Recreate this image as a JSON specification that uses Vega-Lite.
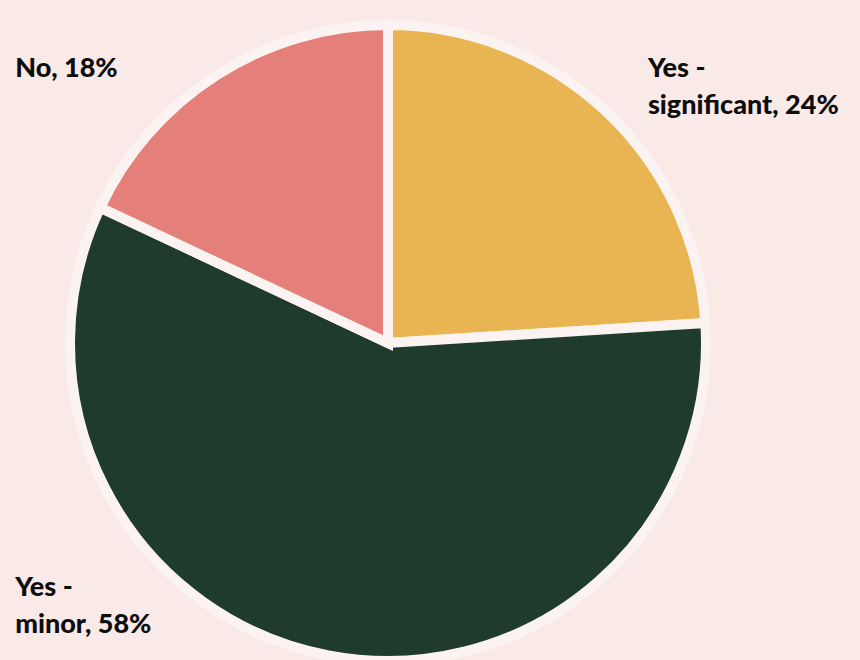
{
  "$schema": "https://vega.github.io/schema/vega-lite/v6.json",
  "autosize": {"type": "none"},
  "width": 776,
  "height": 634,
  "padding": {"left": 0, "top": 26, "right": 84, "bottom": 0},
  "background": "#f9e9e7",
  "config": {"view": {"stroke": null}},
  "data": {
    "values": [
      {"answer": "Yes - significant", "share": 24, "rank": 1, "label": "Yes -\nsignificant, 24%"},
      {"answer": "Yes - minor", "share": 58, "rank": 2, "label": "Yes -\nminor, 58%"},
      {"answer": "No", "share": 18, "rank": 3, "label": "No, 18%"}
    ]
  },
  "encoding": {
    "theta": {"field": "share", "type": "quantitative", "stack": true},
    "order": {"field": "rank", "type": "quantitative"}
  },
  "layer": [
    {
      "mark": {"type": "arc", "outerRadius": 318, "stroke": "#fbf3f1", "strokeWidth": 10, "strokeJoin": "miter"},
      "encoding": {
        "color": {
          "field": "answer",
          "type": "nominal",
          "scale": {"domain": ["Yes - significant", "Yes - minor", "No"], "range": ["#e8b552", "#1f3b2c", "#e47f79"]},
          "legend": null
        }
      }
    },
    {
      "mark": {"type": "text", "radius": 330, "align": "left", "baseline": "alphabetic", "dx": 34, "dy": -25, "font": "Lato", "fontWeight": 900, "fontSize": 27, "lineHeight": 37, "lineBreak": "\n", "color": "#0d0d0d"},
      "encoding": {"text": {"condition": {"test": "datum.answer === 'Yes - significant'", "field": "label"}, "value": ""}}
    },
    {
      "mark": {"type": "text", "radius": 330, "align": "left", "baseline": "alphabetic", "dx": -311, "dy": -71, "font": "Lato", "fontWeight": 900, "fontSize": 27, "lineHeight": 37, "lineBreak": "\n", "color": "#0d0d0d"},
      "encoding": {"text": {"condition": {"test": "datum.answer === 'Yes - minor'", "field": "label"}, "value": ""}}
    },
    {
      "mark": {"type": "text", "radius": 330, "align": "left", "baseline": "alphabetic", "dx": -196, "dy": 13, "font": "Lato", "fontWeight": 900, "fontSize": 27, "lineHeight": 37, "lineBreak": "\n", "color": "#0d0d0d"},
      "encoding": {"text": {"condition": {"test": "datum.answer === 'No'", "field": "label"}, "value": ""}}
    }
  ]
}
